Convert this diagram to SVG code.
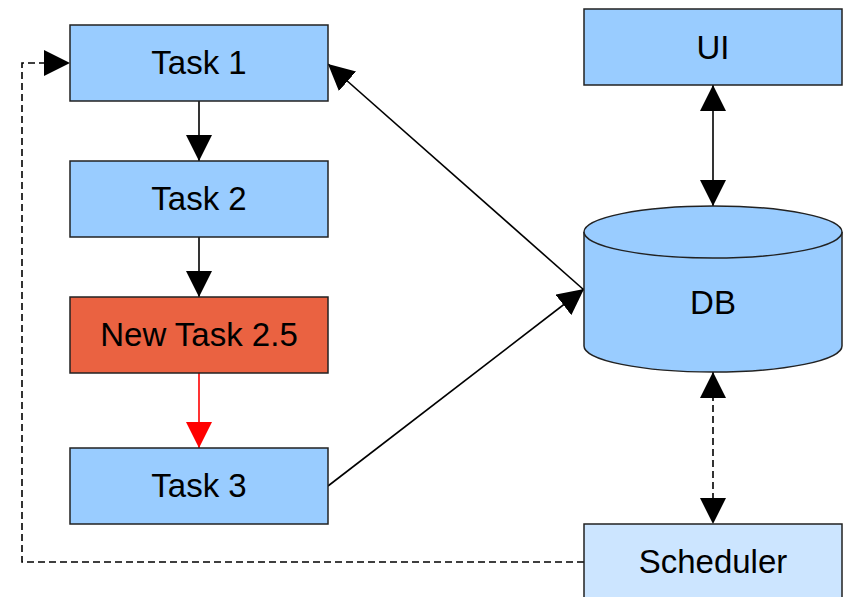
<svg xmlns="http://www.w3.org/2000/svg" width="850" height="597" viewBox="0 0 850 597">
<style>
.box{fill:#99CCFF;stroke:#222;stroke-width:1.5}
.lbl{font-family:"Liberation Sans",Arial,sans-serif;font-size:33px;fill:#000;text-anchor:middle}
.con{fill:none;stroke:#000;stroke-width:1.6}
.dash{stroke-dasharray:7,4}
</style>
<defs>
<marker id="ah" markerUnits="userSpaceOnUse" markerWidth="27" markerHeight="27" refX="26" refY="13" orient="auto-start-reverse"><path d="M0,0 L26,13 L0,26 z" fill="#000"/></marker>
<marker id="ahr" markerUnits="userSpaceOnUse" markerWidth="27" markerHeight="27" refX="26" refY="13" orient="auto"><path d="M0,0 L26,13 L0,26 z" fill="#FF0000"/></marker>
</defs>
<rect width="850" height="597" fill="#fff"/>
<g id="connectors">
<line class="con" x1="199" y1="101" x2="199" y2="161" marker-end="url(#ah)"/>
<line class="con" x1="199" y1="237" x2="199" y2="297" marker-end="url(#ah)"/>
<line class="con" x1="199" y1="373" x2="199" y2="448" style="stroke:#FF0000" marker-end="url(#ahr)"/>
<line class="con" x1="328" y1="486" x2="584" y2="289" marker-end="url(#ah)"/>
<line class="con" x1="584" y1="290" x2="328" y2="64" marker-end="url(#ah)"/>
<line class="con" x1="713" y1="85" x2="713" y2="206" marker-start="url(#ah)" marker-end="url(#ah)"/>
<line class="con dash" x1="713" y1="372" x2="713" y2="524" marker-start="url(#ah)" marker-end="url(#ah)"/>
<path class="con dash" d="M584,562 H22 V63 H70" marker-end="url(#ah)"/>
</g>
<g id="task1"><rect class="box" x="70" y="25" width="258" height="76"/><text class="lbl" x="199" y="74">Task 1</text></g>
<g id="task2"><rect class="box" x="70" y="161" width="258" height="76"/><text class="lbl" x="199" y="210">Task 2</text></g>
<g id="task25"><rect class="box" style="fill:#EA6241" x="70" y="297" width="258" height="76"/><text class="lbl" x="199" y="346">New Task 2.5</text></g>
<g id="task3"><rect class="box" x="70" y="448" width="258" height="76"/><text class="lbl" x="199" y="497">Task 3</text></g>
<g id="ui"><rect class="box" x="584" y="9" width="258" height="76"/><text class="lbl" x="713" y="59">UI</text></g>
<g id="db">
<path class="box" d="M584,232 V346 A129,26 0 0 0 842,346 V232 A129,26 0 0 0 584,232 Z"/>
<path class="box" d="M584,232 A129,26 0 0 0 842,232"/>
<text class="lbl" x="713" y="314">DB</text>
</g>
<g id="scheduler"><rect class="box" style="fill:#CCE5FF" x="584" y="524" width="258" height="90"/><text class="lbl" x="713" y="573">Scheduler</text></g>
</svg>
